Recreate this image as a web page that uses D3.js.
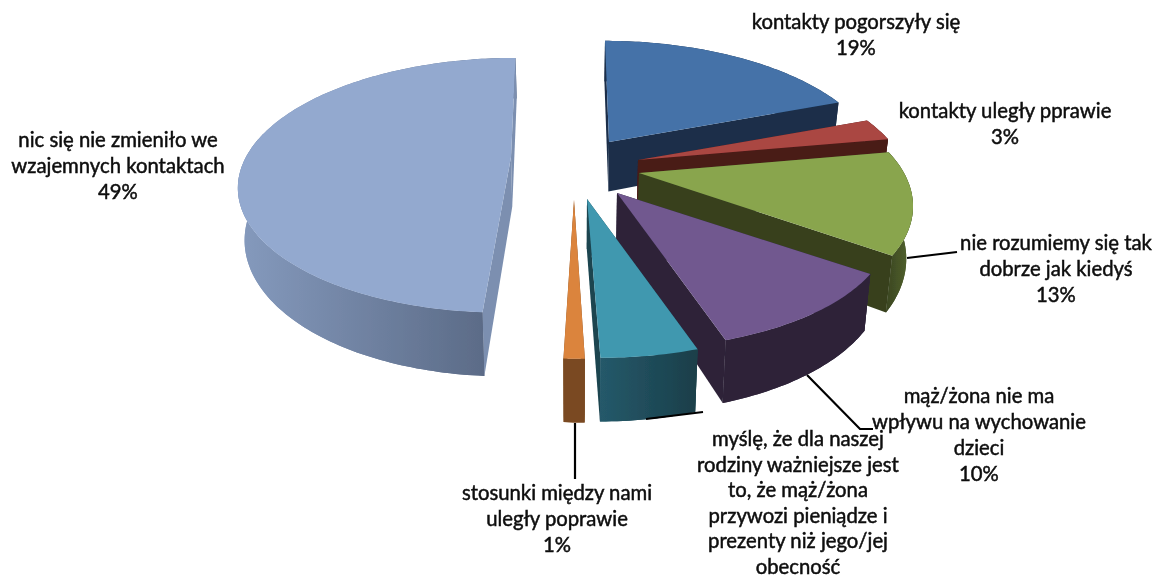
<!DOCTYPE html>
<html><head><meta charset="utf-8">
<script src="https://cdn.jsdelivr.net/npm/d3@7/dist/d3.min.js"></script>
<style>html,body{margin:0;padding:0;background:#fff}svg{display:block}
text{font-family:Lato,"Noto Sans",sans-serif;font-size:20.3px;fill:#0a0a0a;stroke:#0a0a0a;stroke-width:.45px;text-anchor:middle}</style>
</head><body><svg id="c" width="1162" height="582"></svg>
<script>
// data
const categories = ["kontakty pogorszyły się","kontakty uległy pprawie","nie rozumiemy się tak dobrze jak kiedyś","mąż/żona nie ma wpływu na wychowanie dzieci","myślę, że dla naszej rodziny ważniejsze jest to, że mąż/żona przywozi pieniądze i prezenty niż jego/jej obecność","stosunki między nami uległy poprawie","nic się nie zmieniło we wzajemnych kontaktach"];
const values = [19.4,2.8,12.7,10.4,4.7,1,49];
const labelLines = [["kontakty pogorszyły się"],["kontakty uległy pprawie"],["nie rozumiemy się tak","dobrze jak kiedyś"],["mąż/żona nie ma","wpływu na wychowanie","dzieci"],["myślę, że dla naszej","rodziny ważniejsze jest","to, że mąż/żona","przywozi pieniądze i","prezenty niż jego/jej","obecność"],["stosunki między nami","uległy poprawie"],["nic się nie zmieniło we","wzajemnych kontaktach"]];
// styles and layout
const topColors = ["#4472a8","#aa4643","#89a54e","#71588f","#4198af","#db843d","#93a9cf"];
const wallFrom  = ["#1b2f4a","#4a1b18","#37411f","#2d2339","#25596a","#7a4a20","#8499bc"];
const wallTo    = ["#1b2f4a","#4a1b18","#4e5e2b","#2d2339","#1a3f4a","#7a4a20","#566580"];
const cutColors = ["#1b2f4a","#4a1b18","#37411f","#2d2339","#1a4450","#7a4a20","#7b8fb0"];
const apexX = [609,638,639,617,587,574,511];
const apexY = [142,160,173,193,199,200,157];
const vanish = [22,30,40,40,47,38,-25];
const yScale = [1,1,1,0.98,1,1,0.98];
const labelX = [856,1005,1056,979,798,557,118];
const labelY = [29,118,250,403,446,500,147];
const labelLH = [26,26,26,26,25.6,26,26];
const leaders = [[[907,258],[957,252]],[[807,375],[860,429],[873,429]],[[646,419],[703,412]],[[575,423],[575,479]]];
const R=265,KR=123.6,P=0.222,D=49.5,VPX=575,TAPER=0.02;
const svg=d3.select("#c");
const defs=svg.append("defs");
const pie=d3.pie().sort(null).startAngle(0).endAngle(2*Math.PI);
const arcs=pie(values);
const line=d3.line();
function proj(i,r,a,low){
  const z=-r*Math.cos(a),x=r*Math.sin(a),s=1/(1-P*z);
  const X=apexX[i]+vanish[i]*(s-1)+R*x*s;
  return [low?X-(X-VPX)*TAPER:X, apexY[i]+KR*yScale[i]*z*s+(low?D*s:0)];
}
const step=Math.PI/180;
const rng=(a,b)=>{const n=Math.max(2,Math.ceil((b-a)/step));return d3.range(n+1).map(k=>a+(b-a)*k/n);};
const g=svg.append("g").attr("filter","url(#soft)");
defs.append("filter").attr("id","soft").attr("x","-5%").attr("y","-5%").attr("width","110%").attr("height","110%")
  .append("feGaussianBlur").attr("stdDeviation",0.45);
arcs.forEach((d,i)=>{
  const a0=d.startAngle,a1=d.endAngle,as=rng(a0,a1);
  const grp=g.append("g");
  const xs=as.map(a=>proj(i,1,a,true)[0]);
  defs.append("linearGradient").attr("id","w"+i).attr("gradientUnits","userSpaceOnUse")
    .attr("x1",d3.min(xs)).attr("x2",d3.max(xs)).attr("y1",0).attr("y2",0)
    .selectAll("stop").data([wallFrom[i],wallTo[i]]).join("stop")
    .attr("offset",(c,k)=>k).attr("stop-color",c=>c);
  const wall=(list)=>line([...list.map(a=>proj(i,1,a,false)),...list.slice().reverse().map(a=>proj(i,1,a,true))])+"Z";
  const cut=a=>line([proj(i,0,a,false),proj(i,1,a,false),proj(i,1,a,true),proj(i,0,a,true)])+"Z";
  grp.append("path").attr("d",wall(as)).attr("fill",`url(#w${i})`);
  grp.selectAll("path.cut").data([a0,a1]).join("path").attr("class","cut").attr("d",cut).attr("fill",cutColors[i]);
  const front=as.filter(a=>Math.cos(a)<0.2);
  if(front.length>1) grp.append("path").attr("d",wall(front)).attr("fill",`url(#w${i})`);
  grp.append("path").attr("d",line([proj(i,0,a0,false),...as.map(a=>proj(i,1,a,false))])+"Z").attr("fill",topColors[i]);
});
const soft=svg.append("g").attr("filter","url(#soft)");
soft.selectAll("path.lead").data(leaders).join("path").attr("class","lead").attr("d",d=>line(d)).attr("fill","none").attr("stroke","#000").attr("stroke-width",2.2);
soft.selectAll("text").data(categories).join("text").each(function(c,i){
  const t=d3.select(this);
  [...labelLines[i],Math.round(values[i])+"%"].forEach((l,k)=>t.append("tspan").attr("x",labelX[i]).attr("y",labelY[i]+k*labelLH[i]).text(l));
});
</script></body></html>
